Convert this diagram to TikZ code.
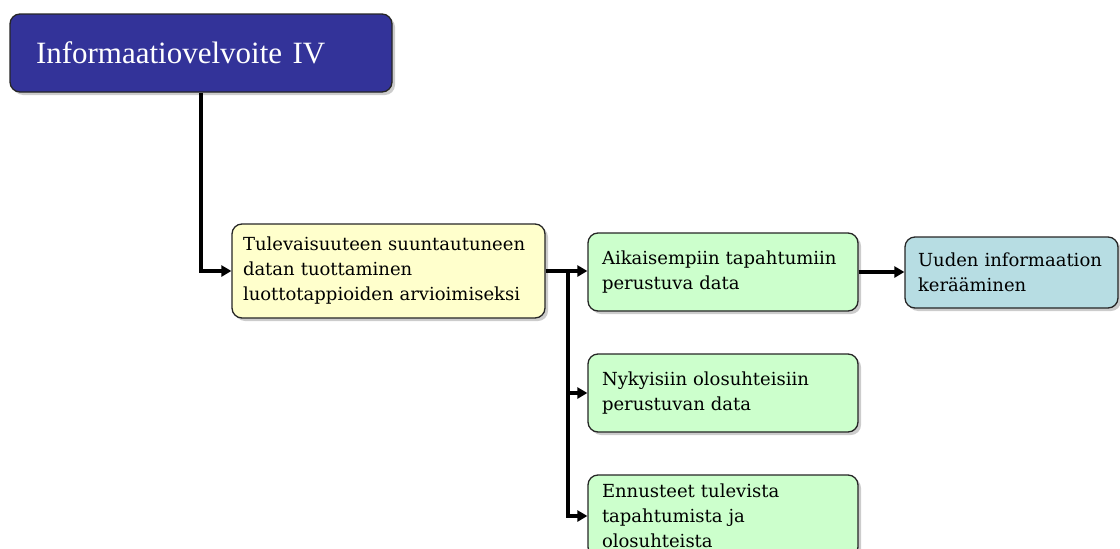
\documentclass[tikz,border=0pt]{standalone}
\usepackage{fontspec}
\usepackage{tikz}
\usetikzlibrary{arrows.meta,shadows}
\newfontfamily\titlefont{Liberation Serif}
\newfontfamily\boxfont{DejaVu Serif}
\definecolor{titleblue}{HTML}{333399}
\definecolor{paleyellow}{HTML}{FFFFCC}
\definecolor{palegreen}{HTML}{CCFFCC}
\definecolor{paleblue}{HTML}{B7DDE3}
\begin{document}
\begin{tikzpicture}[
  x=1pt, y=-1pt,
  every node/.style={draw=black!85, line width=1.3pt, rounded corners=10pt,
                     align=left, inner ysep=0pt,
                     drop shadow={shadow xshift=3pt, shadow yshift=-3pt, opacity=.4}},
  titlebox/.style={fill=titleblue, text=white, inner xsep=26pt,
                   text width=330pt, minimum height=78pt,
                   font=\titlefont\fontsize{31}{36}\selectfont},
  smallbox/.style={inner xsep=14pt, font=\boxfont\fontsize{18}{25}\selectfont},
  yellowbox/.style={smallbox, fill=paleyellow, inner xsep=11pt,
                    text width=291pt, minimum height=94pt},
  greenbox/.style={smallbox, fill=palegreen, text width=242pt, minimum height=78pt},
  bluebox/.style={smallbox, fill=paleblue, inner xsep=13pt,
                  text width=187pt, minimum height=71pt},
  link/.style={line width=3.5pt, -{Triangle[length=10pt,width=11pt]}},
]
\useasboundingbox (0,0) rectangle (1120,549);

\node[titlebox] (info) at (201,53) {Informaatiovelvoite IV};
\node[yellowbox] (tulev) at (388.5,271)
  {Tulevaisuuteen suuntautuneen\\ datan tuottaminen\\ luottotappioiden arvioimiseksi};
\node[greenbox] (aik) at (723,272) {Aikaisempiin tapahtumiin\\ perustuva data};
\node[greenbox] (nyky) at (723,393) {Nykyisiin olosuhteisiin\\ perustuvan data};
\node[greenbox, minimum height=82pt] (ennu) at (723,516)
  {Ennusteet tulevista\\ tapahtumista ja\\ olosuhteista};
\node[bluebox] (uusi) at (1011.5,272.5) {Uuden informaation\\ kerääminen};

% connectors
\coordinate (split) at (568,271);
\draw[link] (info.south) |- (tulev.west);
\draw[link] (tulev.east) -- (tulev.east -| aik.west);
\draw[link] (split) |- (nyky.west);
\draw[link] (split) |- (ennu.west);
\draw[link] (aik.east) -- (aik.east -| uusi.west);
\end{tikzpicture}
\end{document}
